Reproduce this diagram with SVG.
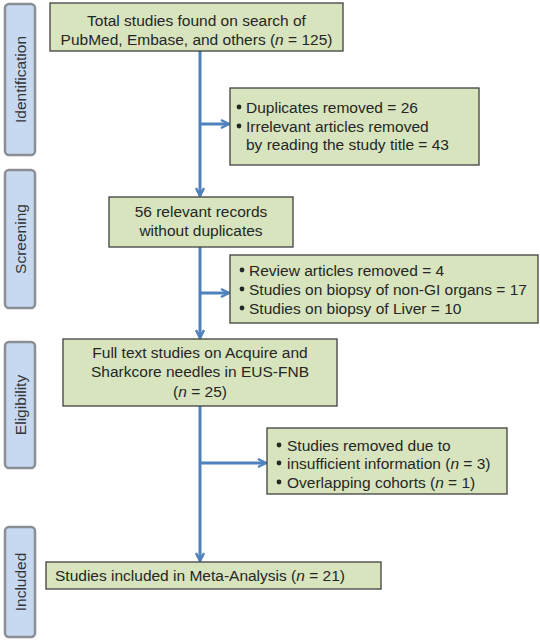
<svg xmlns="http://www.w3.org/2000/svg" width="540" height="641" viewBox="0 0 540 641">
<style>
.stage{fill:#c6d9f1;stroke:#8a8f96;stroke-width:2.5}
.stxt{font-family:"Liberation Sans",Arial,sans-serif;font-size:15.5px;fill:#333;text-anchor:middle}
.box{fill:#d7e4bd;stroke:#3f3f3f;stroke-width:1.3}
.t{font-family:"Liberation Sans",Arial,sans-serif;font-size:15.5px;fill:#262626}
.c{text-anchor:middle}
.b{fill:#262626}
.conn{stroke:#4f81bd;stroke-width:3;fill:none}
</style>
<defs>
<marker id="ah" viewBox="0 0 10 10" refX="9" refY="5" markerWidth="10" markerHeight="10" markerUnits="userSpaceOnUse" orient="auto">
<path d="M1,1 L9,5 L1,9" fill="none" stroke="#4f81bd" stroke-width="2.4"/>
</marker>
</defs>
<rect width="540" height="641" fill="#fff"/>
<g id="stage-identification"><rect class="stage" x="5" y="4" width="30" height="151" rx="4"/><text class="stxt" transform="translate(25.5,79.5) rotate(-90)">Identification</text></g>
<g id="stage-screening"><rect class="stage" x="5" y="170" width="30" height="138" rx="4"/><text class="stxt" transform="translate(25.5,239) rotate(-90)">Screening</text></g>
<g id="stage-eligibility"><rect class="stage" x="5" y="342" width="30" height="126" rx="4"/><text class="stxt" transform="translate(25.5,405) rotate(-90)">Eligibility</text></g>
<g id="stage-included"><rect class="stage" x="5" y="527" width="30" height="110" rx="4"/><text class="stxt" transform="translate(25.5,582) rotate(-90)">Included</text></g>
<g id="connectors">
<line class="conn" x1="200" y1="51" x2="200" y2="196" marker-end="url(#ah)"/>
<line class="conn" x1="200" y1="124" x2="229" y2="124" marker-end="url(#ah)"/>
<line class="conn" x1="200" y1="247" x2="200" y2="338" marker-end="url(#ah)"/>
<line class="conn" x1="200" y1="293" x2="229" y2="293" marker-end="url(#ah)"/>
<line class="conn" x1="200" y1="406" x2="200" y2="561" marker-end="url(#ah)"/>
<line class="conn" x1="200" y1="463" x2="266" y2="463" marker-end="url(#ah)"/>
</g>
<g id="n1"><rect class="box" x="50" y="3" width="293" height="48"/>
<text class="t c" x="196.5" y="25.5">Total studies found on search of</text>
<text class="t c" x="196.5" y="44.5">PubMed, Embase, and others (<tspan font-style="italic">n</tspan> = 125)</text></g>
<g id="n2"><rect class="box" x="230" y="88" width="249" height="77"/>
<circle class="b" cx="239" cy="107" r="2.4"/><text class="t" x="246" y="112.5">Duplicates removed = 26</text>
<circle class="b" cx="239" cy="126" r="2.4"/><text class="t" x="246" y="131.5">Irrelevant articles removed</text>
<text class="t" x="246" y="150">by reading the study title = 43</text></g>
<g id="n3"><rect class="box" x="109" y="197" width="184" height="50"/>
<text class="t c" x="201" y="216.5">56 relevant records</text>
<text class="t c" x="201" y="235.5">without duplicates</text></g>
<g id="n4"><rect class="box" x="230" y="255" width="308" height="68"/>
<circle class="b" cx="242" cy="270" r="2.4"/><text class="t" x="249" y="275.5">Review articles removed = 4</text>
<circle class="b" cx="242" cy="289" r="2.4"/><text class="t" x="249" y="294.5">Studies on biopsy of non-GI organs = 17</text>
<circle class="b" cx="242" cy="308" r="2.4"/><text class="t" x="249" y="313.5">Studies on biopsy of Liver = 10</text></g>
<g id="n5"><rect class="box" x="63" y="339" width="274" height="67"/>
<text class="t c" x="200" y="357.5">Full text studies on Acquire and</text>
<text class="t c" x="200" y="377">Sharkcore needles in EUS-FNB</text>
<text class="t c" x="200" y="396.5">(<tspan font-style="italic">n</tspan> = 25)</text></g>
<g id="n6"><rect class="box" x="267" y="428" width="240" height="66"/>
<circle class="b" cx="279" cy="445" r="2.4"/><text class="t" x="287" y="450.5">Studies removed due to</text>
<circle class="b" cx="279" cy="463" r="2.4"/><text class="t" x="287" y="468.5">insufficient information (<tspan font-style="italic">n</tspan> = 3)</text>
<circle class="b" cx="279" cy="482" r="2.4"/><text class="t" x="287" y="487.5">Overlapping cohorts (<tspan font-style="italic">n</tspan> = 1)</text></g>
<g id="n7"><rect class="box" x="46" y="562" width="335" height="27"/>
<text class="t" x="55" y="581">Studies included in Meta-Analysis (<tspan font-style="italic">n</tspan> = 21)</text></g>
</svg>
